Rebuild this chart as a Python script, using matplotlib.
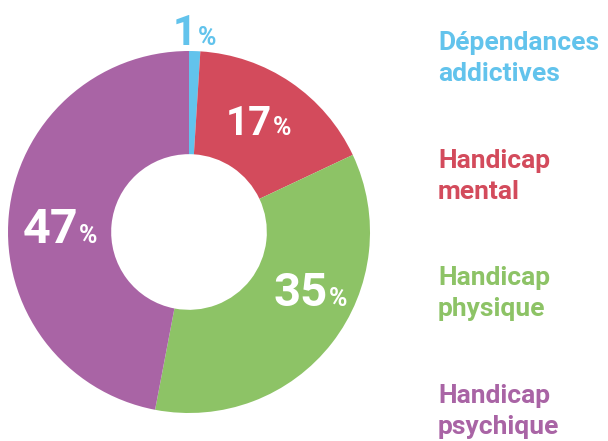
import matplotlib.pyplot as plt
import numpy as np

# parts en pourcentage, dans l'ordre horaire depuis le haut
categories = ["Dépendances\naddictives", "Handicap\nmental", "Handicap\nphysique", "Handicap\npsychique"]
values = [1, 17, 35, 47]
colors = ["#62c3ec", "#d34b5c", "#8dc366", "#a964a5"]

# point d'ancrage des étiquettes (angle depuis le haut en degrés, rayon)
label_pos = [(2.4, 1.034), (40.6, 0.706), (118.0, 0.867), (264.3, 0.616)]

plt.rcParams["font.family"] = ["Roboto", "DejaVu Sans"]

fig = plt.figure(figsize=(6.08, 4.41), dpi=100)
W, H = 608, 441
cx, cy, R = 189, 441 - 232, 181
ax = fig.add_axes([(cx - R) / W, (cy - R) / H, 2 * R / W, 2 * R / H])
ax.pie(values, colors=colors, startangle=90, counterclock=False, radius=1,
       wedgeprops=dict(width=0.57, linewidth=0))
ax.set_xlim(-1, 1)
ax.set_ylim(-1, 1)
ax.set_aspect("equal")
ax.axis("off")

num_sizes = [30, 29, 34, 35]
for v, c, (ang, r), fs in zip(values, colors, label_pos, num_sizes):
    x = r * np.sin(np.radians(ang))
    y = r * np.cos(np.radians(ang))
    tc = c if v == values[0] else "white"
    ax.text(x, y, str(v), ha="right", va="baseline", fontsize=fs,
            fontweight="bold", color=tc)
    ax.text(x + 0.005, y, "%", ha="left", va="baseline", fontsize=18,
            fontweight="bold", color=tc)

# légende en texte coloré à droite, une ligne après l'autre
for i, (cat, c) in enumerate(zip(categories, colors)):
    yb = 50 + i * 117.7
    for j, line in enumerate(cat.split("\n")):
        fig.text(438 / W, (441 - yb - j * 31) / H, line, ha="left",
                 va="baseline", fontsize=19, fontweight="bold", color=c)

fig.savefig("out.png", dpi=100)
